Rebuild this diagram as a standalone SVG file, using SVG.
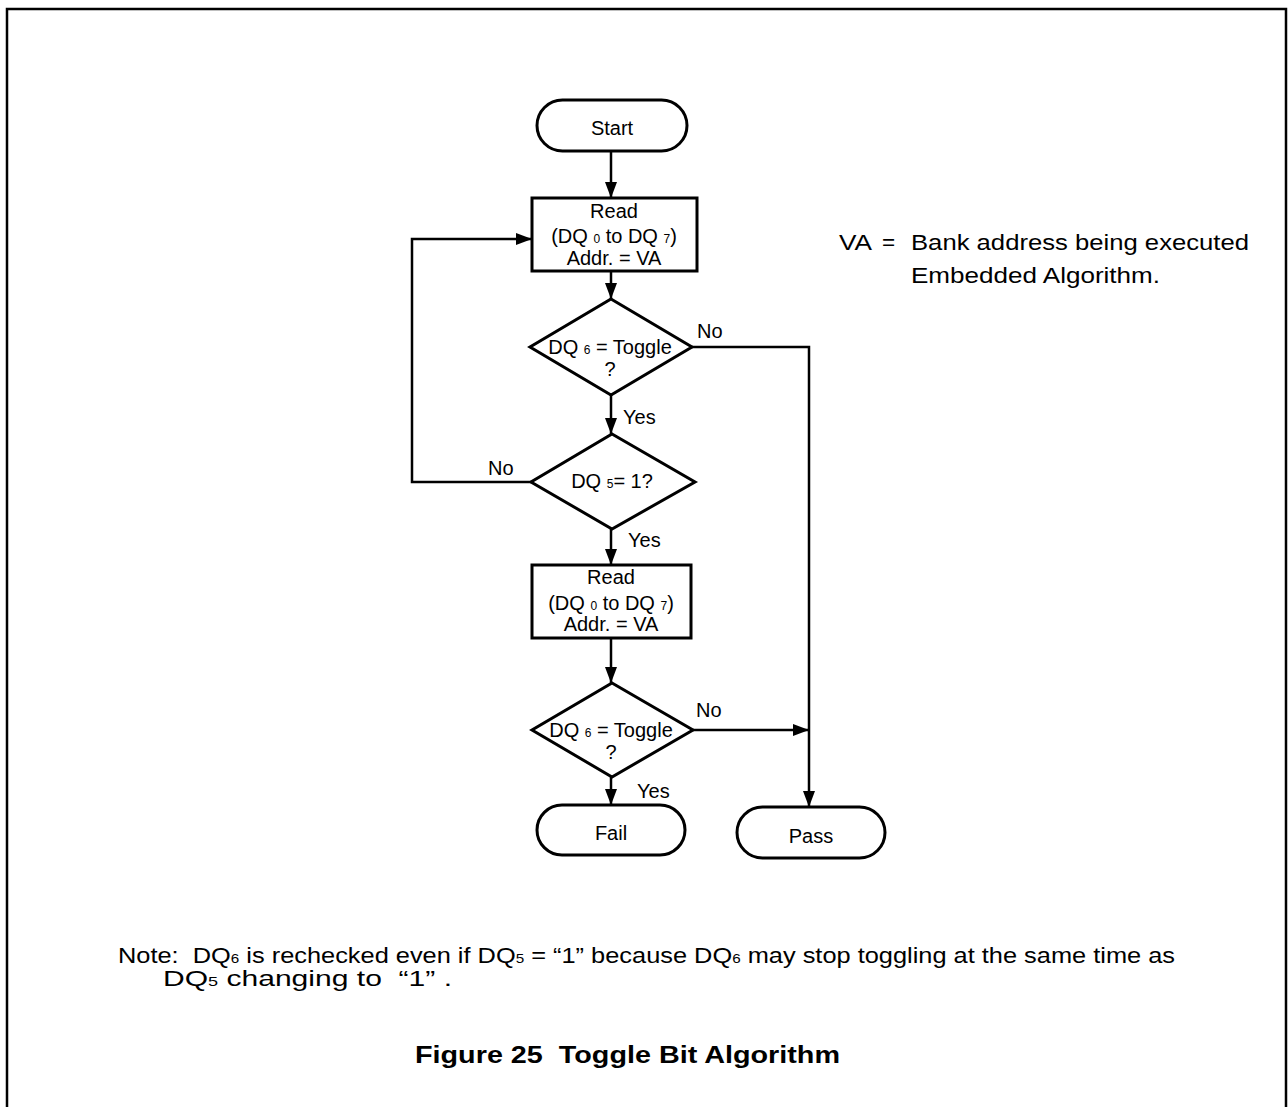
<svg xmlns="http://www.w3.org/2000/svg" width="1288" height="1107" viewBox="0 0 1288 1107">
<defs>
<style>
text{font-family:"Liberation Sans",Arial,sans-serif;font-size:20px;fill:#000}
.sub{font-size:12px}
.big{font-size:22.5px}
.bsub{font-size:13.5px}
.node{fill:#fff;stroke:#000;stroke-width:3}
.conn{fill:none;stroke:#000;stroke-width:2.5}
.title{font-weight:bold;font-size:23px}
</style>
<marker id="arr" markerUnits="userSpaceOnUse" markerWidth="16" markerHeight="12" refX="16" refY="6" orient="auto">
<path d="M0,0 L16,6 L0,12 z" fill="#000"/>
</marker>
</defs>
<rect width="1288" height="1107" fill="#fff"/>
<path d="M7,1107 L7,9 L1286,9 L1286,1107" fill="none" stroke="#000" stroke-width="2.5"/>

<g id="connectors">
<path class="conn" d="M611,151 L611,198" marker-end="url(#arr)"/>
<path class="conn" d="M611,271 L611,299" marker-end="url(#arr)"/>
<path class="conn" d="M611,395 L611,434" marker-end="url(#arr)"/>
<path class="conn" d="M531,482 L412,482 L412,239 L532,239" marker-end="url(#arr)"/>
<path class="conn" d="M692,347 L809,347 L809,807" marker-end="url(#arr)"/>
<path class="conn" d="M611,529 L611,565" marker-end="url(#arr)"/>
<path class="conn" d="M611,638 L611,683" marker-end="url(#arr)"/>
<path class="conn" d="M693,730 L809,730" marker-end="url(#arr)"/>
<path class="conn" d="M611,777 L611,805" marker-end="url(#arr)"/>
<text x="697" y="338">No</text>
<text x="623" y="424">Yes</text>
<text x="488" y="475">No</text>
<text x="628" y="547">Yes</text>
<text x="696" y="717">No</text>
<text x="637" y="798">Yes</text>
</g>

<g id="start">
<rect class="node" x="537" y="100" width="150" height="51" rx="25.5" stroke-width="2.5"/>
<text x="612" y="135" text-anchor="middle">Start</text>
</g>

<g id="read1">
<rect class="node" x="532" y="198" width="165" height="73"/>
<text x="614" y="218" text-anchor="middle">Read</text>
<text x="614" y="243" text-anchor="middle">(DQ <tspan class="sub">0</tspan> to DQ <tspan class="sub">7</tspan>)</text>
<text x="614" y="265" text-anchor="middle">Addr. = VA</text>
</g>

<g id="toggle1">
<polygon class="node" points="611,299 692,347 611,395 530,347"/>
<text x="610" y="354" text-anchor="middle">DQ <tspan class="sub">6</tspan> = Toggle</text>
<text x="610" y="376" text-anchor="middle">?</text>
</g>

<g id="dq5">
<polygon class="node" points="612,434 695,482 612,529 531,482"/>
<text x="612" y="488" text-anchor="middle">DQ <tspan class="sub">5</tspan>= 1?</text>
</g>

<g id="read2">
<rect class="node" x="532" y="565" width="159" height="73"/>
<text x="611" y="584" text-anchor="middle">Read</text>
<text x="611" y="610" text-anchor="middle">(DQ <tspan class="sub">0</tspan> to DQ <tspan class="sub">7</tspan>)</text>
<text x="611" y="631" text-anchor="middle">Addr. = VA</text>
</g>

<g id="toggle2">
<polygon class="node" points="612,683 693,730 612,777 532,730"/>
<text x="611" y="737" text-anchor="middle">DQ <tspan class="sub">6</tspan> = Toggle</text>
<text x="611" y="759" text-anchor="middle">?</text>
</g>

<g id="fail">
<rect class="node" x="537" y="805" width="148" height="50" rx="25" stroke-width="2.5"/>
<text x="611" y="840" text-anchor="middle">Fail</text>
</g>

<g id="pass">
<rect class="node" x="737" y="807" width="148" height="51" rx="25.5" stroke-width="2.5"/>
<text x="811" y="843" text-anchor="middle">Pass</text>
</g>

<g id="legend">
<text class="big" x="839" y="250" textLength="33" lengthAdjust="spacingAndGlyphs">VA</text>
<text class="big" x="882" y="250">=</text>
<text class="big" x="911" y="250" textLength="338" lengthAdjust="spacingAndGlyphs">Bank address being executed</text>
<text class="big" x="911" y="283" textLength="249" lengthAdjust="spacingAndGlyphs">Embedded Algorithm.</text>
</g>

<g id="note">
<text class="big" x="118" y="963" xml:space="preserve" textLength="1057" lengthAdjust="spacingAndGlyphs">Note:  DQ<tspan class="bsub">6</tspan> is rechecked even if DQ<tspan class="bsub">5</tspan> = “1” because DQ<tspan class="bsub">6</tspan> may stop toggling at the same time as</text>
<text class="big" x="163" y="986" xml:space="preserve" textLength="289" lengthAdjust="spacingAndGlyphs">DQ<tspan class="bsub">5</tspan> changing to  “1” .</text>
</g>

<text class="title" x="415" y="1063" textLength="425" lengthAdjust="spacingAndGlyphs" xml:space="preserve">Figure 25  Toggle Bit Algorithm</text>
</svg>
